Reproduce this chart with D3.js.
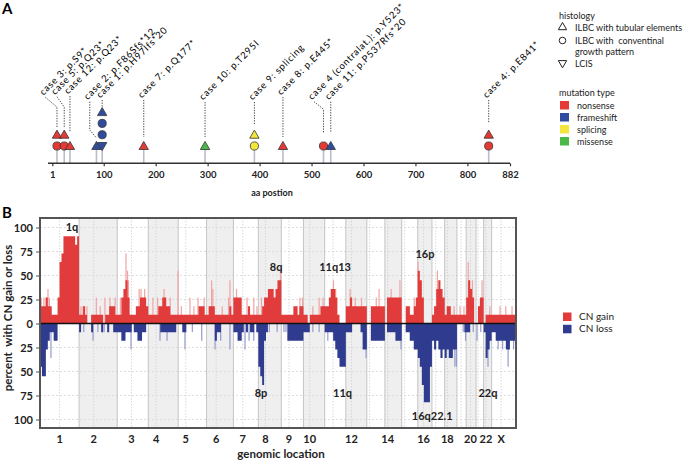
<!DOCTYPE html>
<html>
<head>
<meta charset="utf-8">
<script src="https://d3js.org/d3.v7.min.js"></script>
<style>
body { margin: 0; background: #fff; }
svg { display: block; font-family: Lato, 'Open Sans', sans-serif; }
</style>
</head>
<body>
<script>
// ---------- panel A data ----------
var aaTicks = [1, 100, 200, 300, 400, 500, 600, 700, 800, 882];
var mutationTypes = ['nonsense', 'frameshift', 'splicing', 'missense'];
var histologies = ['ILBC with tubular elements', 'ILBC with  conventinal\ngrowth pattern', 'LCIS'];

var mutPos   = [10, 10, 24, 24, 35, 86, 97, 97, 97, 97, 177, 295, 390, 390, 445, 523, 537, 841, 841];
var mutStack = [1, 2, 1, 2, 1, 1, 1, 2, 3, 4, 1, 1, 1, 2, 1, 1, 1, 1, 2];
var mutShape = ['circle', 'tri', 'circle', 'tri', 'tri', 'tri', 'inv', 'circle', 'circle', 'tri',
                'tri', 'tri', 'circle', 'tri', 'tri', 'circle', 'tri', 'circle', 'tri'];
var mutType  = ['nonsense', 'nonsense', 'nonsense', 'nonsense', 'nonsense', 'frameshift', 'frameshift',
                'frameshift', 'frameshift', 'frameshift', 'nonsense', 'missense', 'splicing', 'splicing',
                'nonsense', 'nonsense', 'frameshift', 'nonsense', 'nonsense'];

var caseLabels = ['case 3: p.S9*', 'case 5: p.Q23*', 'case 12: p.Q23*', 'case 2: p.F86Sfs*12',
                  'case 1: p.H97Ifs*20', 'case 7: p.Q177*', 'case 10: p.T295I', 'case 9: splicing',
                  'case 8: p.E445*', 'case 4 (contralat.): p.Y523*', 'case 11: p.P537Rfs*20', 'case 4: p.E841*'];
var caseLabelPos = [10, 24, 35, 86, 97, 177, 295, 390, 445, 523, 537, 841];

// ---------- panel B data ----------
var chroms = ['1','2','3','4','5','6','7','8','9','10','11','12','13','14','15','16','17','18','19','20','21','22','X'];
var chromLength = [249.3, 243.2, 198.0, 191.2, 180.9, 171.1, 159.1, 146.4, 141.2, 135.5, 135.0, 133.9,
                   115.2, 107.3, 102.5, 90.4, 81.2, 78.1, 59.1, 63.0, 48.1, 51.3, 155.3];
var centromere = [125.0, 93.3, 91.0, 50.4, 48.4, 61.0, 59.9, 45.6, 49.0, 40.2, 53.7, 35.8,
                  17.9, 17.6, 19.0, 36.6, 24.0, 17.2, 26.5, 27.5, 13.2, 14.7, 60.6];
var labelledChroms = ['1','2','3','4','5','6','7','8','9','10','12','14','16','18','20','22','X'];

// percent of cases with CN gain / loss, equal bins along each chromosome
var gainPct = [
  [18,18,18,27,18,18,9,9,9,27,64,73,91,91,91,91,91,91,82,91],
  [9,9,18,9,0,0,9,9,9,9,9,9,0,9,9,18,18,18,9],
  [9,9,27,36,45,27,9,9,9,18,18,27,27,27,18],
  [9,9,9,9,9,18,18,27,27,18,18,9,9,9,9],
  [9,9,9,9,9,9,9,9,9,9,18,18,18,9],
  [9,18,18,18,9,9,9,9,9,9,9,18,9],
  [27,27,27,27,9,9,9,18,9,9,9,9],
  [9,9,18,27,27,36,36,36,27,36,45,45],
  [9,9,9,9,9,9,18,18,9,18,18],
  [9,9,0,9,9,9,9,9,18,18],
  [18,18,27,36,36,27,9,0,0,0],
  [18,18,27,18,18,18,18,18,18,18],
  [0,0,18,18,18,18,18,18,18],
  [0,27,27,27,27,27,27,27],
  [0,0,18,18,9,9,18,27],
  [55,45,27,0,0,0,0],
  [9,18,36,45,36,27],
  [9,18,18,9,9,9],
  [9,9,9,9,9],
  [27,45,36,27,0],
  [0,18,27,27],
  [0,9,9,9],
  [9,9,9,9,9,9,9,9,9,9,9,9]
];
var lossPct = [
  [45,55,55,27,18,9,9,18,18,0,0,0,0,0,0,0,0,0,0,0],
  [9,0,0,0,0,0,9,0,0,0,0,9,0,0,9,0,0,9,9],
  [9,9,18,18,9,9,9,0,9,9,18,18,9,9,0],
  [0,0,0,0,0,0,9,9,9,9,9,9,9,9,0],
  [0,0,9,9,0,0,0,0,0,0,0,0,0,0],
  [0,0,0,0,18,9,9,0,0,0,0,0,0],
  [9,9,18,18,9,0,9,0,9,9,0,9],
  [45,55,64,18,9,0,0,0,0,0,0,0],
  [0,0,0,18,18,18,18,18,18,18,18],
  [9,9,9,0,0,0,0,0,0,0],
  [9,9,9,9,18,27,36,45,45,45],
  [9,9,9,0,0,0,0,9,27,27],
  [0,0,18,18,18,18,18,18,18],
  [0,9,9,9,9,18,18,18],
  [0,0,9,9,18,18,27,27],
  [36,45,64,82,82,82,45],
  [18,27,18,27,36,27],
  [36,27,36,36,27,27],
  [0,0,0,0,9],
  [9,9,0,0,0],
  [0,0,0,0],
  [9,36,27,18],
  [9,9,18,18,18,18,18,27,27,18,18,18]
];
// short focal events: [chromosome, Mb, percent]
var gainSpikes = [['1',8,27],['1',25,27],['1',38,27],['1',51,36],['1',60,27],['2',12,18],['2',25,18],
  ['2',50,18],['2',110,27],['2',135,18],['2',165,27],['2',197,27],['2',230,27],['3',20,27],['3',56,73],
  ['3',66,55],['3',72,45],['3',140,36],['3',152,36],['3',175,36],['4',30,27],['4',60,27],['4',101,36],
  ['4',140,27],['4',190,55],['5',20,18],['5',75,27],['5',100,18],['5',126,27],['5',165,27],['6',32,45],
  ['6',40,36],['6',100,18],['6',140,27],['6',149,45],['7',20,36],['7',87,27],['7',130,27],['7',150,18],
  ['8',20,27],['8',141,55],['9',100,18],['9',119,27],['9',135,27],['10',60,18],['10',100,27],
  ['10',125,27],['11',40,36],['11',56,45],['11',70,36],['12',27,36],['12',60,27],['12',100,27],
  ['13',60,27],['13',78,36],['14',40,36],['14',96,45],['15',50,18],['15',80,27],['16',1,64],
  ['17',35,55],['18',30,18],['18',60,18],['19',20,18],['19',45,18],['20',13,64],['20',40,45],
  ['21',38,45],['22',40,18],['X',54,18],['X',90,18],['X',130,18]];
var lossSpikes = [['1',70,36],['2',30,9],['2',89,18],['2',120,9],['2',160,9],['3',88,27],['3',130,18],
  ['4',75,18],['4',120,18],['5',43,27],['5',90,9],['5',150,18],['6',54,27],['6',90,18],['6',149,27],
  ['7',74,27],['7',100,18],['7',130,18],['8',70,9],['8',120,9],['9',17,9],['9',30,9],['10',60,9],
  ['10',100,9],['11',20,18],['12',20,9],['12',129,36],['14',103,27],['15',30,9],['18',65,45],
  ['18',75,45],['19',40,9],['19',55,18],['20',45,9],['21',6,18],['21',30,9],['22',28,45],
  ['X',41,27],['X',70,27],['X',105,45],['X',140,27]];

var regionLabels = ['1q', '8q', '11q13', '16p', '8p', '11q', '16q22.1', '22q'];
var regionChrom  = ['1', '8', '11', '16', '8', '11', '16', '22'];
var regionMb     = [204, 113, 66, 46, 17, 114, 92, 28];
var regionPct    = [96, 55, 55, 68, -77, -77, -100, -77];

// ---------- drawing ----------
var W = 685, H = 461;
var red = '#e23b3b', blue = '#2e3b8f', lightRed = '#f2a3a3', lightBlue = '#959bcb';

var svg = d3.select('body').append('svg')
    .attr('width', W)
    .attr('height', H);

var typeColor = d3.scaleOrdinal()
    .domain(mutationTypes)
    .range(['#e53935', '#2f4c9f', '#f4e73c', '#4cb848']);

// ===== panel A =====
svg.append('text').attr('x', 2).attr('y', 14)
    .style('font-size', '15px').style('font-weight', 'bold').text('A');

var xA = d3.scaleLinear().domain([1, 882]).range([52.3, 510]);
var axisY = 163.3;
var stackY = function(r) { return 146 - (r - 1) * 11.3; };

var gA = svg.append('g');

// stems
gA.selectAll('.stem')
    .data(d3.range(caseLabelPos.length).filter(function(i) { return caseLabelPos.indexOf(caseLabelPos[i]) === i; }))
    .enter().append('line')
    .attr('x1', function(i) { return xA(caseLabelPos[i]); })
    .attr('x2', function(i) { return xA(caseLabelPos[i]); })
    .attr('y1', axisY).attr('y2', stackY(1))
    .style('stroke', '#b9bccb').style('stroke-width', 1.6);

gA.append('line')
    .attr('x1', 48).attr('x2', 510).attr('y1', axisY).attr('y2', axisY)
    .style('stroke', '#333').style('stroke-width', 1.5);

var axA = d3.axisBottom(xA).tickValues(aaTicks).tickSize(3).tickSizeOuter(0).tickPadding(5);
var gAx = gA.append('g').attr('transform', 'translate(0,' + axisY + ')').call(axA);
gAx.select('.domain').remove();
gAx.selectAll('line').style('stroke', '#333').style('stroke-width', 1.2);
gAx.selectAll('text').style('font-size', '9.5px').style('font-weight', 'bold')
    .style('fill', '#222').style('font-family', 'Lato, sans-serif');

svg.append('text').attr('x', 272).attr('y', 196)
    .style('font-size', '9px').style('font-weight', 'bold').style('text-anchor', 'middle')
    .style('fill', '#222').text('aa postion');

function shapePath(s) {
  if (s === 'circle') return d3.symbol().type(d3.symbolCircle).size(52)();
  return d3.symbol().type(d3.symbolTriangle).size(38)();
}

gA.selectAll('.mut')
    .data(d3.range(mutPos.length))
    .enter().append('path')
    .attr('class', 'mut')
    .attr('d', function(i) { return shapePath(mutShape[i]); })
    .attr('transform', function(i) {
      var dy = mutShape[i] === 'circle' ? 0 : (mutShape[i] === 'inv' ? -0.8 : 0.8);
      return 'translate(' + xA(mutPos[i]) + ',' + (stackY(mutStack[i]) + dy) + ')' +
        (mutShape[i] === 'inv' ? ' rotate(180)' : '');
    })
    .style('fill', function(i) { return typeColor(mutType[i]); })
    .style('stroke', '#333').style('stroke-width', 0.8);

// label leaders: foot offset of the label, top y, knees (layout only)
var leaderLayout = [
  {dx: -11.6, top: 97.3, pts: [[0, 107], [0, 128]]},
  {dx: -7.3, top: 96.7, pts: [[0, 107], [0, 128]]},
  {dx: 0, top: 96, pts: [[0, 132]]},
  {dx: -6.7, top: 101.7, pts: [[-6.7, 130], [0, 138]]},
  {dx: 0, top: 100, pts: [[0, 107]]},
  {dx: 0, top: 100, pts: [[0, 137]]},
  {dx: 0, top: 102, pts: [[0, 137]]},
  {dx: 0, top: 102, pts: [[0, 125]]},
  {dx: 0, top: 97, pts: [[0, 137]]},
  {dx: -9.4, top: 101.7, pts: [[0, 109.3], [0, 133]]},
  {dx: 0, top: 101.7, pts: [[0, 133]]},
  {dx: 0, top: 100, pts: [[0, 123]]}
];

caseLabels.forEach(function(lab, i) {
  var sx = xA(caseLabelPos[i]);
  var L = leaderLayout[i];
  var p = d3.path();
  p.moveTo(sx + L.dx, L.top);
  L.pts.forEach(function(q) { p.lineTo(sx + q[0], q[1]); });
  gA.append('path').attr('d', p.toString())
      .style('fill', 'none').style('stroke', '#333').style('stroke-width', 0.9)
      .style('stroke-dasharray', '1.3,1.3');
  gA.append('text')
      .attr('transform', 'translate(' + (sx + L.dx - 2) + ',' + (L.top - 1.5) + ') rotate(-45)')
      .style('font-size', '9.5px').style('letter-spacing', '0.75px').style('fill', '#000')
      .text(lab);
});

// legend A
var legA = svg.append('g').style('font-size', '9px').style('fill', '#222');
legA.append('text').attr('x', 559).attr('y', 19).text('histology');
var histY = [27.3, 40.5, 63];
histologies.forEach(function(h, i) {
  var sym = i === 1 ? d3.symbol().type(d3.symbolCircle).size(34)() : d3.symbol().type(d3.symbolTriangle).size(30)();
  legA.append('path').attr('d', sym)
      .attr('transform', 'translate(562.5,' + histY[i] + ')' + (i === 2 ? ' rotate(180)' : ''))
      .style('fill', 'none').style('stroke', '#222').style('stroke-width', 1);
  h.split('\n').forEach(function(line, j) {
    legA.append('text').attr('x', 575).attr('y', histY[i] + 3.5 + j * 10.5)
        .style('white-space', 'pre').text(line);
  });
});
legA.append('text').attr('x', 559).attr('y', 96).text('mutation type');
mutationTypes.forEach(function(t, i) {
  var yy = 101 + i * 12;
  legA.append('rect').attr('x', 560).attr('y', yy).attr('width', 9).attr('height', 8.5)
      .style('fill', typeColor(t));
  legA.append('text').attr('x', 577).attr('y', yy + 7.5).text(t);
});

// ===== panel B =====
svg.append('text').attr('x', 2).attr('y', 218)
    .style('font-size', '15px').style('font-weight', 'bold').text('B');

var cumStart = [];
var acc = 0;
chromLength.forEach(function(l) { cumStart.push(acc); acc += l; });
var genomeTotal = acc;

var frame = {left: 40, right: 516, top: 218, bottom: 428};
var xB = d3.scaleLinear().domain([0, genomeTotal]).range([frame.left, frame.right]);
var yB = d3.scaleLinear().domain([-100, 100]).range([419.5, 227.5]);
var yTicks = [-100, -75, -50, -25, 0, 25, 50, 75, 100];

var gB = svg.append('g');

// even chromosome shading
gB.selectAll('.shade')
    .data(chroms.filter(function(c, i) { return i % 2 === 1; }))
    .enter().append('rect')
    .attr('x', function(c) { return xB(cumStart[chroms.indexOf(c)]); })
    .attr('width', function(c) { var i = chroms.indexOf(c); return xB(cumStart[i] + chromLength[i]) - xB(cumStart[i]); })
    .attr('y', frame.top).attr('height', frame.bottom - frame.top)
    .style('fill', '#efefef');

// horizontal grid
gB.selectAll('.hgrid')
    .data(yTicks.filter(function(t) { return t !== 0; }))
    .enter().append('line')
    .attr('x1', frame.left).attr('x2', frame.right)
    .attr('y1', function(d) { return yB(d); }).attr('y2', function(d) { return yB(d); })
    .style('stroke', '#d6d6d6').style('stroke-width', 0.8).style('stroke-dasharray', '2,2');

// chromosome boundaries and centromeres
gB.selectAll('.cbound')
    .data(d3.range(1, chroms.length))
    .enter().append('line')
    .attr('x1', function(i) { return xB(cumStart[i]); })
    .attr('x2', function(i) { return xB(cumStart[i]); })
    .attr('y1', frame.top).attr('y2', frame.bottom)
    .style('stroke', '#c4c4c4').style('stroke-width', 1);
gB.selectAll('.cen')
    .data(d3.range(chroms.length))
    .enter().append('line')
    .attr('x1', function(i) { return xB(cumStart[i] + centromere[i]); })
    .attr('x2', function(i) { return xB(cumStart[i] + centromere[i]); })
    .attr('y1', frame.top).attr('y2', frame.bottom)
    .style('stroke', '#cfcfcf').style('stroke-width', 0.8).style('stroke-dasharray', '1.5,1.5');

// spikes
function drawSpikes(list, sign, color) {
  gB.selectAll(null)
      .data(list)
      .enter().append('rect')
      .attr('x', function(d) { return xB(cumStart[chroms.indexOf(d[0])] + d[1]) - 0.6; })
      .attr('width', 1.2)
      .attr('y', function(d) { return sign > 0 ? yB(d[2]) : yB(0); })
      .attr('height', function(d) { return Math.abs(yB(0) - yB(sign * d[2])); })
      .style('fill', color);
}
drawSpikes(gainSpikes, 1, lightRed);
drawSpikes(lossSpikes, -1, lightBlue);

// step profiles
function profilePoints(series, sign) {
  var pts = [];
  series.forEach(function(arr, c) {
    var w = chromLength[c] / arr.length;
    arr.forEach(function(v, i) { pts.push({p: cumStart[c] + i * w, v: sign * v}); });
  });
  pts.push({p: genomeTotal, v: sign * series[series.length - 1].slice(-1)[0]});
  return pts;
}
var stepArea = d3.area()
    .curve(d3.curveStepAfter)
    .x(function(d) { return xB(d.p); })
    .y0(yB(0))
    .y1(function(d) { return yB(d.v); });

gB.append('path').datum(profilePoints(gainPct, 1)).attr('d', stepArea).style('fill', red);
gB.append('path').datum(profilePoints(lossPct, -1)).attr('d', stepArea).style('fill', blue);

// zero line
gB.append('line').attr('x1', frame.left).attr('x2', frame.right)
    .attr('y1', yB(0)).attr('y2', yB(0))
    .style('stroke', '#111').style('stroke-width', 1.4);

// frame
gB.append('rect').attr('x', frame.left).attr('y', frame.top)
    .attr('width', frame.right - frame.left).attr('height', frame.bottom - frame.top)
    .style('fill', 'none').style('stroke', '#555').style('stroke-width', 2);

// y axis
var yAx = gB.append('g').attr('transform', 'translate(' + (frame.left - 1) + ',0)')
    .call(d3.axisLeft(yB).tickValues(yTicks).tickFormat(function(d) { return Math.abs(d); })
      .tickSize(3).tickPadding(3));
yAx.select('.domain').remove();
yAx.selectAll('line').style('stroke', '#555');
yAx.selectAll('text').style('font-size', '11px').style('font-weight', 'bold')
    .style('fill', '#222').style('font-family', 'Lato, sans-serif');

svg.append('text')
    .attr('transform', 'translate(12,318) rotate(-90)')
    .style('font-size', '11.5px').style('font-weight', 'bold').style('text-anchor', 'middle')
    .style('white-space', 'pre').style('fill', '#222')
    .text('percent  with CN gain or loss');

// chromosome labels
gB.selectAll('.clab')
    .data(labelledChroms)
    .enter().append('text')
    .attr('x', function(c) { var i = chroms.indexOf(c); return xB(cumStart[i] + centromere[i]); })
    .attr('y', 443)
    .style('text-anchor', 'middle').style('font-size', '11px').style('font-weight', 'bold')
    .style('fill', '#222')
    .text(function(c) { return c; });

svg.append('text').attr('x', 281).attr('y', 458)
    .style('font-size', '11.5px').style('font-weight', 'bold').style('text-anchor', 'middle')
    .style('fill', '#222').text('genomic location');

// region annotations
gB.selectAll('.reg')
    .data(d3.range(regionLabels.length))
    .enter().append('text')
    .attr('x', function(i) { return xB(cumStart[chroms.indexOf(regionChrom[i])] + regionMb[i]); })
    .attr('y', function(i) { return yB(regionPct[i]); })
    .style('text-anchor', 'middle').style('font-size', '11px').style('font-weight', 'bold')
    .style('fill', '#222')
    .text(function(i) { return regionLabels[i]; });

// legend B
var legB = svg.append('g').style('font-size', '10px').style('fill', '#222');
[['CN gain', red], ['CN loss', blue]].forEach(function(d, i) {
  legB.append('rect').attr('x', 563).attr('y', 312.5 + i * 12.3).attr('width', 8.5).attr('height', 8.5)
      .style('fill', d[1]);
  legB.append('text').attr('x', 579).attr('y', 320 + i * 12.3).text(d[0]);
});
</script>
</body>
</html>
